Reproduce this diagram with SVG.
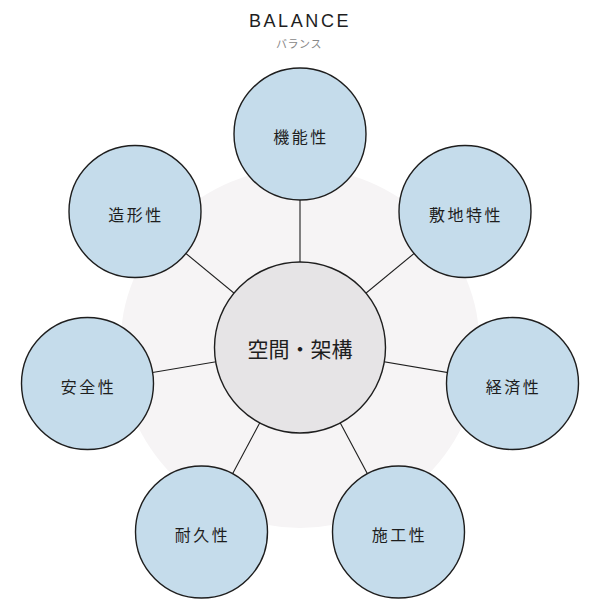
<svg xmlns="http://www.w3.org/2000/svg" width="600" height="600" viewBox="0 0 600 600">
<style>
.bg{fill:#f6f4f5}
.node circle{fill:#c5dceb;stroke:#1e1e1e;stroke-width:1.4}
.hub circle{fill:#e6e4e6;stroke:#1e1e1e;stroke-width:1.4}
.lbl{font-family:"Noto Sans CJK JP","Noto Sans",sans-serif;font-size:16px;fill:#1e1e1e;text-anchor:middle;dominant-baseline:central;letter-spacing:2.5px}
.hubl{font-family:"Noto Sans CJK JP","Noto Sans",sans-serif;font-size:21px;fill:#1e1e1e;text-anchor:middle;dominant-baseline:central}
.conn line{stroke:#1e1e1e;stroke-width:1.1}
</style>
<rect width="600" height="600" fill="#ffffff"/>
<circle class="bg" cx="300" cy="348" r="180"/>
<text x="300" y="27" font-family="'Liberation Sans','Noto Sans',sans-serif" font-size="18" fill="#1e1e1e" text-anchor="middle" letter-spacing="2.6">BALANCE</text>
<text x="299" y="48" font-family="'Noto Sans CJK JP','Noto Sans',sans-serif" font-size="11" fill="#888888" text-anchor="middle" letter-spacing="0.5">バランス</text>
<g id="connectors" class="conn">
<line x1="300" y1="347.5" x2="300" y2="134"/>
<line x1="300" y1="347.5" x2="465" y2="211.5"/>
<line x1="300" y1="347.5" x2="512.5" y2="383.5"/>
<line x1="300" y1="347.5" x2="398.5" y2="532"/>
<line x1="300" y1="347.5" x2="201.5" y2="532"/>
<line x1="300" y1="347.5" x2="87.5" y2="383.5"/>
<line x1="300" y1="347.5" x2="135" y2="211.5"/>
</g>
<g id="hub" class="hub"><circle cx="300" cy="347.5" r="85.5"/><text class="hubl" x="300" y="347.5">空間・架構</text></g>
<g id="n-kinou" class="node"><circle cx="300" cy="134" r="66"/><text class="lbl" x="301" y="136">機能性</text></g>
<g id="n-shikichi" class="node"><circle cx="465" cy="211.5" r="66"/><text class="lbl" x="466" y="213.5">敷地特性</text></g>
<g id="n-keizai" class="node"><circle cx="512.5" cy="383.5" r="66"/><text class="lbl" x="513.5" y="385.5">経済性</text></g>
<g id="n-sekou" class="node"><circle cx="398.5" cy="532" r="66"/><text class="lbl" x="399.5" y="534">施工性</text></g>
<g id="n-taikyu" class="node"><circle cx="201.5" cy="532" r="66"/><text class="lbl" x="202.5" y="534">耐久性</text></g>
<g id="n-anzen" class="node"><circle cx="87.5" cy="383.5" r="66"/><text class="lbl" x="88.5" y="385.5">安全性</text></g>
<g id="n-zoukei" class="node"><circle cx="135" cy="211.5" r="66"/><text class="lbl" x="136" y="213.5">造形性</text></g>
</svg>
